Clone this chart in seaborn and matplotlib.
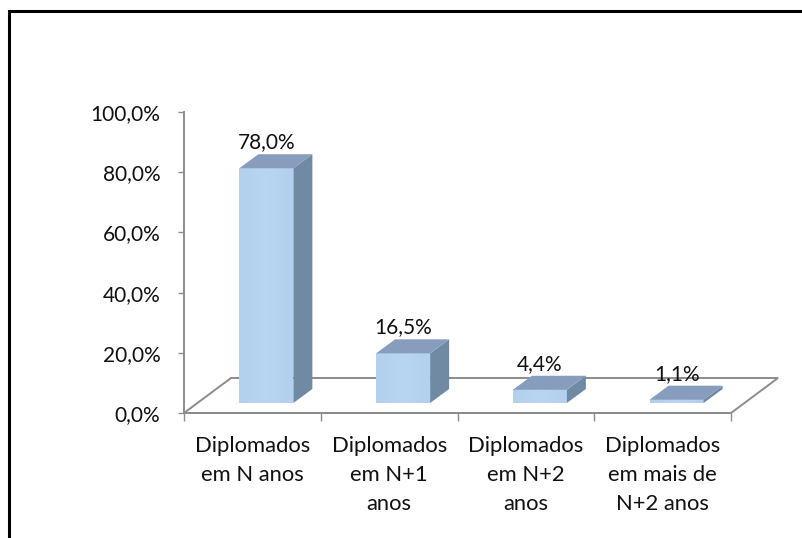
import matplotlib
matplotlib.use('Agg')
import matplotlib.pyplot as plt
from matplotlib.lines import Line2D
from matplotlib.patches import Polygon
import numpy as np
import pandas as pd
import seaborn as sns

# dados do gráfico
categorias = ['Diplomados\nem N anos', 'Diplomados\nem N+1\nanos',
              'Diplomados\nem N+2\nanos', 'Diplomados\nem mais de\nN+2 anos']
valores = [78.0, 16.5, 4.4, 1.1]
rotulos = ['78,0%', '16,5%', '4,4%', '1,1%']
ticks_y = [0, 20, 40, 60, 80, 100]
ticks_y_txt = ['0,0%', '20,0%', '40,0%', '60,0%', '80,0%', '100,0%']

W, H = 802, 538
sns.set_theme(style='white')
plt.rcParams['font.family'] = ['Lato', 'DejaVu Sans']

df = pd.DataFrame({'cat': categorias, 'val': valores})

fig = plt.figure(figsize=(W / 100, H / 100), dpi=100)
ax = fig.add_axes([184 / W, 1 - 413 / H, (731 - 184) / W, (413 - 112) / H])

# escala: px por unidade
ux = (731 - 184) / 4
uy = (413 - 112) / 100
base = 10 / uy           # a barra assenta um pouco acima da frente do chão
dx, dy = 19 / ux, 14 / uy  # profundidade da barra
fx, fy = 47 / ux, 35 / uy  # profundidade do chão
desloc = 14 / ux

cinza = '#8c8c8c'

# chão
ax.plot([-0.5 + fx, 3.5 + fx, 3.5, -0.5, -0.5 + fx], [fy, fy, 0, 0, fy],
        color=cinza, lw=1.4, clip_on=False, zorder=1, solid_joinstyle='miter')

sns.barplot(data=df, x='cat', y='val', bottom=base, width=54 / ux, color='#b6d3ef',
            saturation=1, ax=ax, zorder=3, linewidth=0)
ax.set_xlim(-0.5, 3.5)
ax.set_ylim(0, 100)

for p, rot in zip(ax.patches, rotulos):
    p.set_x(p.get_x() + desloc)
    x0, x1 = p.get_x(), p.get_x() + p.get_width()
    y0, y1 = p.get_y(), p.get_y() + p.get_height()
    # gradiente leve na face da frente
    grad = np.array([[0.0, 0.35, 0.6, 0.35, 0.0]])
    ax.imshow(grad, extent=[x0, x1, y0, y1], aspect='auto', zorder=3.1,
              cmap=matplotlib.colors.LinearSegmentedColormap.from_list('f', ['#b3d0ee', '#bbd8f2']),
              vmin=0, vmax=1, interpolation='bilinear')
    # lateral e topo
    ax.add_patch(Polygon([(x1, y0), (x1 + dx, y0 + dy), (x1 + dx, y1 + dy), (x1, y1)],
                         fc='#718aa3', ec='none', zorder=4, clip_on=False))
    ax.add_patch(Polygon([(x0, y1), (x1, y1), (x1 + dx, y1 + dy), (x0 + dx, y1 + dy)],
                         fc='#879dbd', ec='none', zorder=4, clip_on=False))
    ax.text((x0 + x1) / 2, y1 + dy + 0.6, rot, ha='center', va='bottom', fontsize=15,
            color='#111111', zorder=5)

ax.set_xlim(-0.5, 3.5)
ax.set_ylim(0, 100)
ax.set_xlabel('')
ax.set_ylabel('')
ax.patch.set_alpha(0)
sns.despine(ax=ax, top=True, right=True)
for lado in ['left', 'bottom']:
    ax.spines[lado].set_color(cinza)
    ax.spines[lado].set_linewidth(1.4)

ax.set_yticks(ticks_y)
ax.set_yticklabels(ticks_y_txt, fontsize=15, color='#111111')
ax.tick_params(axis='y', left=True, length=4, width=1, color=cinza, pad=13)

# marcas do eixo x ficam entre as categorias
ax.set_xticks(np.arange(-0.5, 4, 1), minor=True)
ax.tick_params(axis='x', which='minor', bottom=True, length=6, width=1, color=cinza)
ax.set_xticks(range(4))
ax.set_xticklabels(categorias, fontsize=15.8, color='#111111', linespacing=1.56)
ax.tick_params(axis='x', which='major', bottom=False, pad=10.5)

# moldura preta (só topo e esquerda visíveis)
fig.add_artist(Line2D([8.5 / W, 8.5 / W, 1], [0, 1 - 11 / H, 1 - 11 / H],
                      color='black', lw=2.2, solid_joinstyle='miter'))

fig.savefig('out.png', dpi=100)
